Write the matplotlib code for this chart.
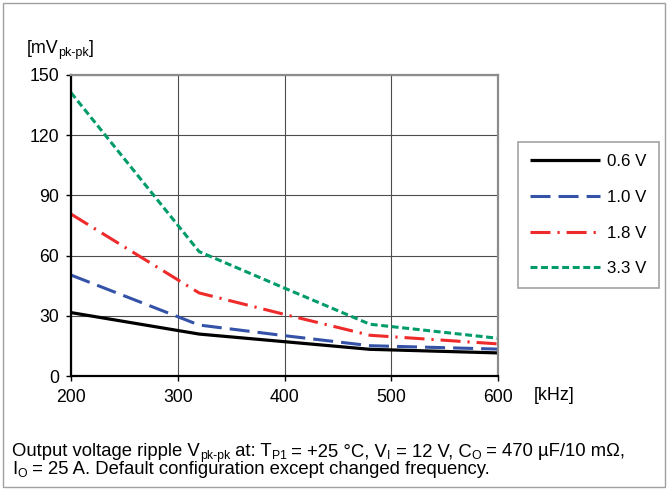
import matplotlib
matplotlib.use('Agg')
import matplotlib.pyplot as plt
from matplotlib.patches import Rectangle

# values
freq_khz = [200, 320, 400, 480, 600]
ripple_06 = [31.6, 20.9, 17.1, 13.3, 11.5]
ripple_10 = [50.3, 25.4, 20.1, 15.1, 13.4]
ripple_18 = [80.7, 41.4, 30.7, 20.3, 16.0]
ripple_33 = [141.2, 62.0, 43.8, 25.8, 18.8]
series_labels = ['0.6 V', '1.0 V', '1.8 V', '3.3 V']
x_ticks = [200, 300, 400, 500, 600]
y_ticks = [0, 30, 60, 90, 120, 150]

plt.rcParams['font.family'] = ['Liberation Sans', 'DejaVu Sans']
plt.rcParams['lines.scale_dashes'] = False

W, H = 668, 490
fig = plt.figure(figsize=(W / 100, H / 100), dpi=100)
ax = fig.add_axes([71 / W, 1 - 376 / H, (498 - 71) / W, (376 - 75) / H])

styles = [
    dict(color='black', lw=2.3, ls='-'),
    dict(color='#3352A8', lw=2.2, ls=(0, (14.4, 5.8))),
    dict(color='#EE2A2A', lw=2.2, ls=(0, (14.4, 5.0, 1.6, 5.0))),
    dict(color='#009B6B', lw=2.2, ls=(0, (5.0, 2.6))),
]
for vals, lab, st in zip([ripple_06, ripple_10, ripple_18, ripple_33], series_labels, styles):
    ax.plot(freq_khz, vals, label=lab, solid_capstyle='butt', dash_capstyle='butt', **st)

ax.set_xlim(200, 600)
ax.set_ylim(0, 150)
ax.set_xticks(x_ticks)
ax.set_yticks(y_ticks)
ax.tick_params(axis='both', labelsize=12.7, length=3.5, width=1, color='black')
ax.tick_params(axis='x', pad=6)
ax.tick_params(axis='y', pad=5)
ax.grid(True, color='#4d4d4d', lw=0.8)
ax.set_axisbelow(True)
for s in ['left', 'bottom']:
    ax.spines[s].set_color('black')
    ax.spines[s].set_linewidth(1.6)
for s in ['top', 'right']:
    ax.spines[s].set_color('#8C8C8C')
    ax.spines[s].set_linewidth(1.6)

leg = ax.legend(loc='upper left', bbox_to_anchor=(518 / W, 1 - 142 / H),
                bbox_transform=fig.transFigure, fontsize=12.2, frameon=True,
                fancybox=False, edgecolor='#8C8C8C', handlelength=4.1,
                handletextpad=0.45, labelspacing=1.22, borderpad=0.72,
                borderaxespad=0)
leg.get_frame().set_linewidth(1.2)

# unit on the x axis
fig.text(534 / W, 1 - 395 / H, '[kHz]', fontsize=12.9, va='center', ha='left')


def chain(x0, y_base, pieces, size=13.3, sub_size=8.8, sub_drop=3):
    # pieces: (text, is_subscript), each one placed right after the previous
    prev = fig.text(x0 / W, y_base / H, pieces[0][0], fontsize=size, va='baseline')
    for txt, sub in pieces[1:]:
        y = y_base - sub_drop if sub else y_base
        prev = fig.add_artist(plt.Annotation(
            txt, xy=(1, y), xycoords=(prev, 'figure pixels'),
            fontsize=sub_size if sub else size, va='baseline', ha='left'))


# unit on the y axis
chain(27, H - 53, [('[mV', False), ('pk-pk', True), (']', False)], size=12.9, sub_size=9)

# caption
chain(12, H - 456, [('Output voltage ripple V', False), ('pk-pk', True), (' at: T', False),
                    ('P1', True), (' = +25 °C, V', False), ('I', True), (' = 12 V, C', False),
                    ('O', True), (' = 470 µF/10 mΩ,', False)])
chain(12, H - 474, [('I', False), ('O', True),
                    (' = 25 A. Default configuration except changed frequency.', False)])

# outer frame
fig.add_artist(Rectangle((3 / W, 3 / H), 662 / W, 484 / H, transform=fig.transFigure,
                         fill=False, edgecolor='#A0A0A0', lw=1.0))

fig.savefig('out.png', dpi=100)
